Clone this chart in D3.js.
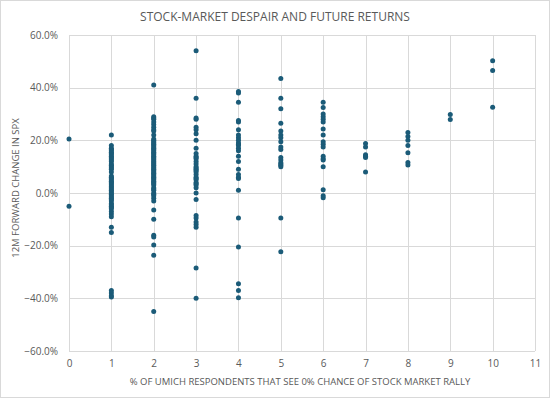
<!DOCTYPE html>
<html><head><meta charset="utf-8">
<script src="https://cdn.jsdelivr.net/npm/d3@7"></script>
<style>
html,body{margin:0;padding:0;background:#fff;}
svg{display:block;font-family:"Open Sans",sans-serif;}
</style></head>
<body><svg id="c" width="550" height="398"></svg>
<script>
const title = "STOCK-MARKET DESPAIR AND FUTURE RETURNS";
const xTitle = "% OF UMICH RESPONDENTS THAT SEE 0% CHANCE OF STOCK MARKET RALLY";
const yTitle = "12M FORWARD CHANGE IN SPX";
const xTicks = [0,1,2,3,4,5,6,7,8,9,10,11];
const yTicks = [-0.6,-0.4,-0.2,0,0.2,0.4,0.6];

// 12M forward change (%) by x value
const col0 = [20.5, -5];
const col1 = [22, 18, 17, 16.5, 16, 15.5, 15, 14.5, 14, 13.5, 13, 12.5, 12, 11, 10.5, 10, 9.5, 9, 8, 6.5, 6, 5.5, 5, 4.5, 4, 3.5, 3, 2.5, 2, 1.5, 1, 0.5, 0, -0.5, -1, -1.5, -2, -2.5, -3, -4, -4.5, -5, -5.5, -6, -7, -8, -9, -13, -15, -37, -38, -39, -39.5];
const col2 = [41, 29, 28.5, 28, 27, 26, 25, 24, 23.5, 22, 20.5, 20, 19.5, 19, 18.5, 18, 17.5, 17, 16.5, 16, 15.5, 15, 14.5, 14, 13.5, 13, 12.5, 12, 11.5, 11, 10.5, 10, 9.5, 9, 8.5, 8, 7.5, 7, 6.5, 6, 5.5, 5, 4.5, 4, 3.5, 3, 2, 1.5, 1, 0, -0.5, -1, -2, -3, -6.5, -10, -16, -16.7, -19.7, -23.6, -45];
const col3 = [54, 36, 28.5, 28, 25, 24, 22.5, 20, 17, 15, 14, 13.5, 13, 12, 11, 10, 9.5, 9, 8.5, 8, 7, 6, 5.5, 5, 4, 3.5, 3, 2, 0, -2.5, -8.5, -9.5, -11, -12, -13, -28.5, -40];
const col4 = [38.5, 38, 34.5, 27.5, 27, 24, 22, 21, 20, 19, 18.5, 18, 17, 16, 14, 12, 9, 7, 6, 5.5, 1, -9.5, -20.5, -34.5, -37, -39.8];
const col5 = [43.5, 36, 32, 26.5, 23.5, 22, 21, 19.5, 17.5, 16.5, 13.5, 12.5, 11.5, 11, 10.5, 10, -9.5, -22.3];
const col6 = [34.5, 32.5, 30, 29, 28, 27, 24.3, 22, 19.5, 18.5, 17.5, 14, 13, 12.5, 10, 1.2, -1, -1.8];
const col7 = [18.8, 17.5, 14.5, 14, 13.5, 8];
const col8 = [23, 21.5, 20, 18, 15.3, 11.6, 10.6];
const col9 = [29.8, 27.9];
const col10 = [50.2, 46.5, 32.6];
const columns = [col0,col1,col2,col3,col4,col5,col6,col7,col8,col9,col10];

const points = [];
columns.forEach((vals,i)=>vals.forEach(v=>points.push({x:i,y:v/100})));

const svg = d3.select("#c");
const W=550,H=398;
const m={left:69,right:15,top:35,bottom:47};
const x = d3.scaleLinear().domain([0,11]).range([m.left, W-m.right]);
const y = d3.scaleLinear().domain([-0.6,0.6]).range([H-m.bottom, m.top]);

svg.append("rect").attr("x",0.5).attr("y",0.5).attr("width",W-1).attr("height",H-1)
  .attr("fill","#fff").attr("stroke","#d9d9d9");

const grid="#d9d9d9";
svg.append("g").selectAll("line").data(yTicks).join("line")
  .attr("x1",x(0)).attr("x2",x(11)).attr("y1",d=>Math.round(y(d))+0.5).attr("y2",d=>Math.round(y(d))+0.5)
  .attr("stroke",grid).attr("stroke-width",1);
svg.append("g").selectAll("line").data(xTicks).join("line")
  .attr("y1",y(0.6)).attr("y2",y(-0.6)).attr("x1",d=>Math.round(x(d))+0.5).attr("x2",d=>Math.round(x(d))+0.5)
  .attr("stroke",grid).attr("stroke-width",1);

const yAxis = d3.axisLeft(y).tickValues(yTicks).tickFormat(d3.format(".1%")).tickSize(0).tickPadding(11);
const gy = svg.append("g").attr("transform",`translate(${x(0)},0)`).call(yAxis);
gy.select(".domain").remove();
gy.selectAll("text").attr("fill","#595959").style("font-size","10px").style("font-family","'Open Sans',sans-serif");

const xAxis = d3.axisBottom(x).tickValues(xTicks).tickFormat(d3.format("d")).tickSize(0).tickPadding(9);
const gx = svg.append("g").attr("transform",`translate(0,${y(-0.6)})`).call(xAxis);
gx.select(".domain").remove();
gx.selectAll("text").attr("fill","#595959").style("font-size","10px").style("font-family","'Open Sans',sans-serif");

svg.append("g").selectAll("circle").data(points).join("circle")
  .attr("cx",d=>x(d.x)).attr("cy",d=>y(d.y)).attr("r",2.5).attr("fill","#1b5b78");

svg.append("text").attr("x",W/2).attr("y",21).attr("text-anchor","middle")
  .attr("fill","#595959").style("font-size","12px").text(title);
svg.append("text").attr("x",(x(0)+x(11))/2 - 2).attr("y",385).attr("text-anchor","middle")
  .attr("fill","#595959").style("font-size","9.5px").text(xTitle);
svg.append("text").attr("transform",`translate(19,188) rotate(-90)`).attr("text-anchor","middle")
  .attr("fill","#595959").style("font-size","9.5px").text(yTitle);
</script></body></html>
